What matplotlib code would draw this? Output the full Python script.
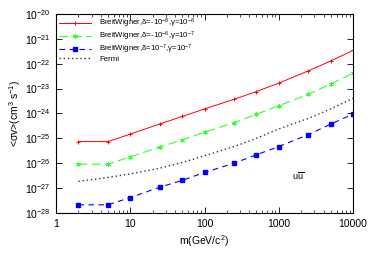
import numpy as np
import matplotlib.pyplot as plt
import matplotlib.ticker as mticker

plt.rcParams['font.family'] = ['Liberation Sans', 'DejaVu Sans']
plt.rcParams['mathtext.fontset'] = 'custom'
plt.rcParams['mathtext.rm'] = 'Liberation Sans'
plt.rcParams['mathtext.it'] = 'Liberation Sans'

# masas (GeV/c^2)
masses = [2, 5, 10, 25, 50, 100, 250, 500, 1000, 2500, 5000, 10000]

# log10 de <sigma v>
bw_red = [-25.13, -25.13, -24.83, -24.42, -24.12, -23.82, -23.43, -23.12, -22.78, -22.29, -21.89, -21.47]
bw_green = [-26.04, -26.04, -25.74, -25.35, -25.06, -24.75, -24.37, -24.03, -23.69, -23.23, -22.82, -22.38]
bw_blue = [-27.67, -27.67, -27.38, -26.96, -26.69, -26.37, -26.0, -25.66, -25.33, -24.85, -24.43, -24.02]
fermi = [-26.73, -26.57, -26.43, -26.2, -25.97, -25.7, -25.33, -25.0, -24.62, -24.2, -23.82, -23.39]

labels = [r'BreitWigner,$\delta$=-10$^{-8}$,$\gamma$=10$^{-8}$',
          r'BreitWigner,$\delta$=-10$^{-6}$,$\gamma$=10$^{-7}$',
          r'BreitWigner,$\delta$=10$^{-7}$,$\gamma$=10$^{-7}$',
          'Fermi']

fig = plt.figure(figsize=(3.74, 2.62), dpi=100)
ax = fig.add_axes([0.150, 0.187, 0.794, 0.760])

x = np.array(masses)
ax.plot(x, 10**np.array(bw_red), color='red', lw=0.7, marker='+', ms=3.5, mew=0.7, label=labels[0])
ax.plot(x, 10**np.array(bw_green), color='#33ff33', lw=0.8, ls=(0, (8, 4)), marker=(6, 2, 0), ms=3.5, mew=0.7, label=labels[1])
ax.plot(x, 10**np.array(bw_blue), color='blue', lw=0.8, ls=(0, (5, 4)), marker='s', ms=2.5, label=labels[2])
ax.plot(x, 10**np.array(fermi), color='#333333', lw=1.0, ls=(0, (1, 2)), label=labels[3])

ax.set_xscale('log')
ax.set_yscale('log')
ax.set_xlim(1, 10000)
ax.set_ylim(1e-28, 1e-20)
ax.set_xticks([1, 10, 100, 1000, 10000])
ax.set_xticklabels(['1', '10', '100', '1000', '10000'])
ax.set_yticks([10.0**k for k in range(-28, -19)])
ax.set_yticklabels([r'10$^{%d}$' % k for k in range(-28, -19)])
ax.tick_params(which='both', direction='in', top=True, right=True, labelsize=7.5, pad=4)
ax.tick_params(which='major', length=4, width=0.6)
ax.tick_params(which='minor', length=2, width=0.5)
ax.minorticks_on()
ax.yaxis.set_minor_locator(mticker.NullLocator())
for s in ax.spines.values():
    s.set_linewidth(0.8)

ax.set_xlabel(r'm(GeV/c$^2$)', fontsize=7.5, labelpad=3)
ax.set_ylabel(r'<$\sigma$v>(cm$^3$ s$^{-1}$)', fontsize=7.5, labelpad=1)
ax.text(1500, 2.2e-27, r'u$\overline{\rm u}$', fontsize=6.5)

ax.legend(loc='upper left', frameon=False, fontsize=5.6, handlelength=4.1,
          borderaxespad=0.4, borderpad=0.0, labelspacing=-0.05, handletextpad=1.0)

plt.savefig('out.png', dpi=100)
